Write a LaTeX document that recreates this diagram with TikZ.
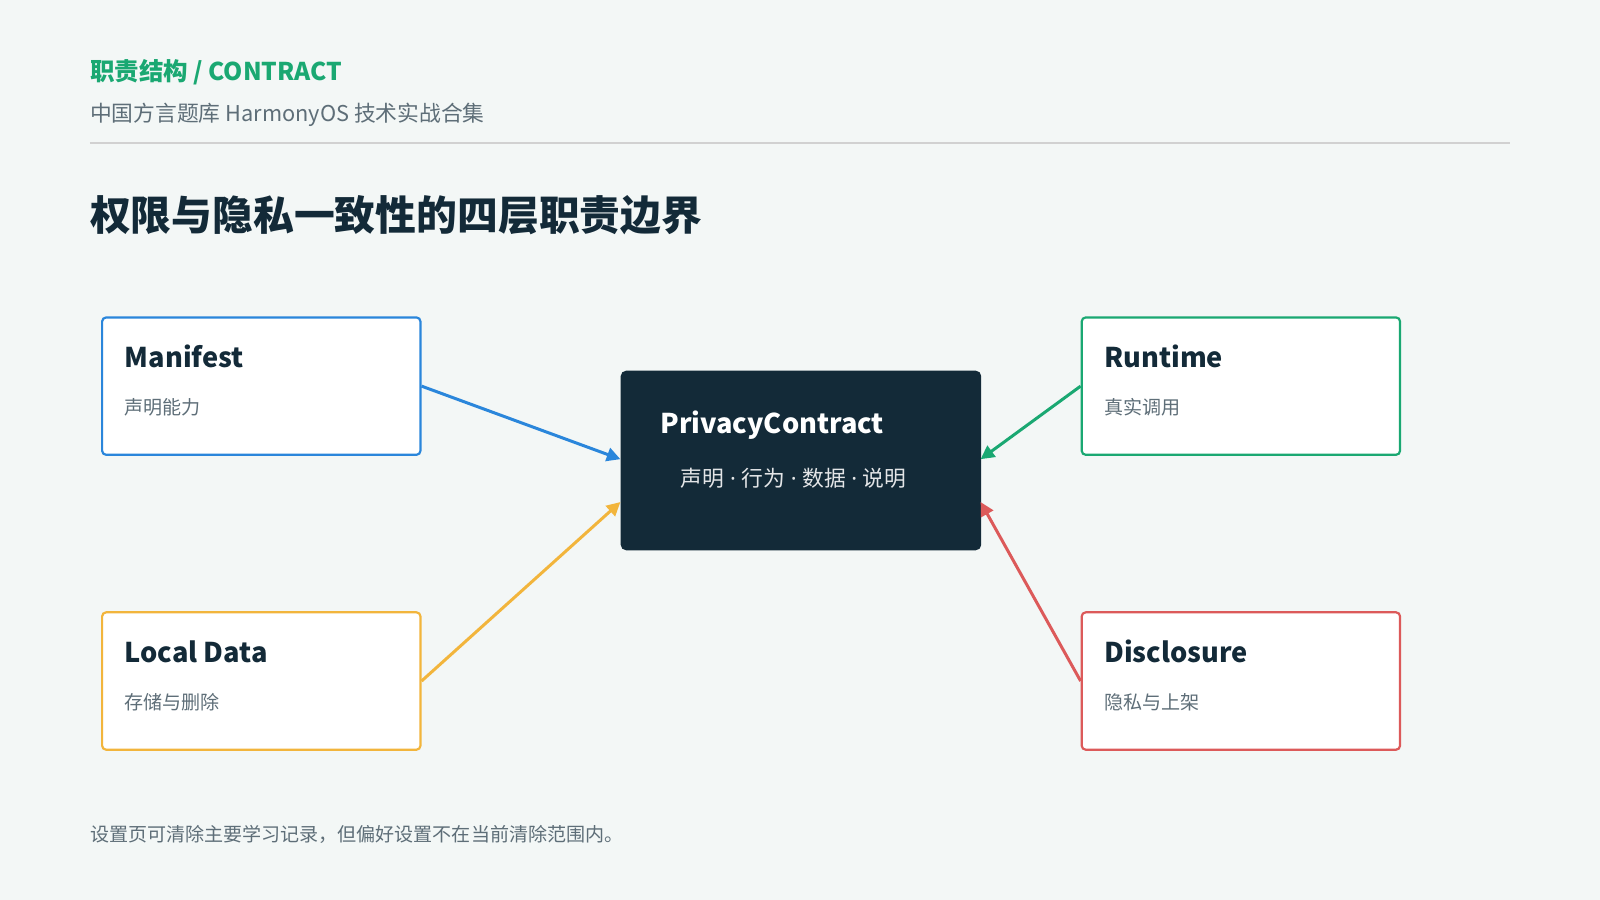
\documentclass[tikz,border=0pt]{standalone}
\usepackage{fontspec}
\setmainfont{Noto Sans CJK SC}
\newfontfamily\latinsans{Noto Sans}
\newcommand{\sepdot}{{\latinsans\ ·\ }}
\usetikzlibrary{arrows.meta,positioning}
\definecolor{bg}{HTML}{F3F7F6}
\definecolor{ink}{HTML}{132A38}
\definecolor{muted}{HTML}{5E6E78}
\definecolor{cgreen}{HTML}{1AA872}
\definecolor{cblue}{HTML}{2A86DB}
\definecolor{corange}{HTML}{F2B53C}
\definecolor{cred}{HTML}{DC5A5A}
\begin{document}
\begin{tikzpicture}[
    x=0.75pt, y=-0.75pt,
    every node/.style={inner sep=0pt},
    layer/.style={draw=#1, line width=1.6pt, fill=white, rounded corners=3pt,
      minimum width=234pt, minimum height=101pt, anchor=north west},
    layertitle/.style={font=\fontsize{20}{24}\selectfont\bfseries, text=ink, anchor=base west},
    layerrole/.style={font=\fontsize{14}{17}\selectfont, text=muted, anchor=base west},
    link/.style={draw=#1, line width=2.2pt, -{Triangle[length=10pt,width=10pt]}}
]
  \fill[bg] (0,0) rectangle (1568,882);
  % header
  \node[anchor=base west, text=cgreen, font=\fontsize{18}{22}\selectfont\bfseries] (kicker) at (88,79) {职责结构 / CONTRACT};
  \node[anchor=base west, text=muted, font=\fontsize{16}{20}\selectfont] (series) at (88,119) {中国方言题库 HarmonyOS 技术实战合集};
  \draw[draw=black!18, line width=1pt] (88,140) -- (1480,140);
  \node[anchor=base west, text=ink, font=\fontsize{30}{36}\selectfont\bfseries] (title) at (88,226) {权限与隐私一致性的四层职责边界};
  % layers
  \node[layer=cblue] (manifest) at (99,310) {};
  \node[layertitle] (manifestTitle) at (122,360) {Manifest};
  \node[layerrole] (manifestRole) at (122,406) {声明能力};
  \node[layer=corange] (localdata) at (99,599) {};
  \node[layertitle] (localdataTitle) at (122,649) {Local Data};
  \node[layerrole] (localdataRole) at (122,695) {存储与删除};
  \node[layer=cgreen] (runtime) at (1059,310) {};
  \node[layertitle] (runtimeTitle) at (1082,360) {Runtime};
  \node[layerrole] (runtimeRole) at (1082,406) {真实调用};
  \node[layer=cred] (disclosure) at (1059,599) {};
  \node[layertitle] (disclosureTitle) at (1082,649) {Disclosure};
  \node[layerrole] (disclosureRole) at (1082,695) {隐私与上架};
  % contract
  \node[fill=ink, rounded corners=4pt, minimum width=265pt, minimum height=132pt, anchor=north west] (contract) at (608,363) {};
  \node[anchor=base west, text=white, font=\fontsize{20}{24}\selectfont\bfseries] (contractTitle) at (647,425) {PrivacyContract};
  \node[anchor=base west, text=white!88!ink, font=\fontsize{16}{20}\selectfont] (contractRole) at (667,477) {声明\sepdot 行为\sepdot 数据\sepdot 说明};
  \coordinate (inBlue) at (608,450);
  \coordinate (inOrange) at (608,492);
  \coordinate (inGreen) at (961,450);
  \coordinate (inRed) at (961,492);
  \draw[link=cblue] (manifest.east) -- (inBlue);
  \draw[link=corange] (localdata.east) -- (inOrange);
  \draw[link=cgreen] (runtime.west) -- (inGreen);
  \draw[link=cred] (disclosure.west) -- (inRed);
  % footer
  \node[anchor=base west, text=muted, font=\fontsize{14}{17}\selectfont] (note) at (88,825) {设置页可清除主要学习记录，但偏好设置不在当前清除范围内。};
\end{tikzpicture}
\end{document}
